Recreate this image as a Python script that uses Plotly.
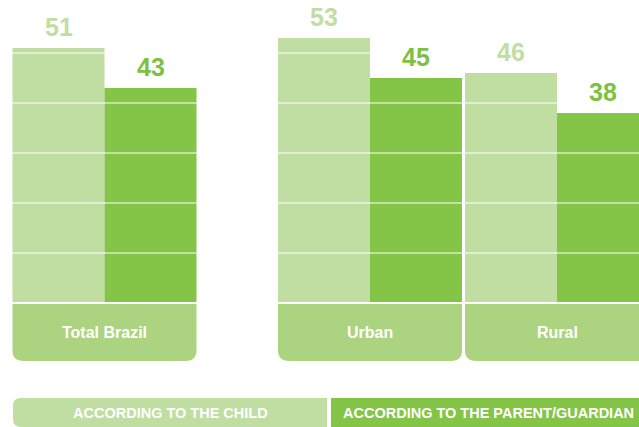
import plotly.graph_objects as go

# data
groups = ["Total Brazil", "Urban", "Rural"]
child = [51, 53, 46]
parent = [43, 45, 38]
series_names = ["ACCORDING TO THE CHILD", "ACCORDING TO THE PARENT/GUARDIAN"]

# layout (x axis in pixel units, y axis in value units: 5 px per unit)
group_x = [104.5, 370, 557]
bar_w = 92
LIGHT = "#c1dea2"
DARK = "#84c446"
BOX = "#acd480"
LIGHT_TXT = "#c1dea2"
DARK_TXT = "#7cc142"
FONT = "Liberation Sans, Arial, sans-serif"
W, H = 639, 427
BASE_PX = 303
PX_PER_UNIT = 5


def py(p):
    """pixel row -> y value"""
    return (BASE_PX - p) / PX_PER_UNIT


fig = go.Figure()
fig.add_trace(go.Bar(x=[c - bar_w / 2 for c in group_x], y=child, width=bar_w,
                     marker=dict(color=LIGHT, line=dict(width=0)), name=series_names[0],
                     hoverinfo="y"))
fig.add_trace(go.Bar(x=[c + bar_w / 2 for c in group_x], y=parent, width=bar_w,
                     marker=dict(color=DARK, line=dict(width=0)), name=series_names[1],
                     hoverinfo="y"))

shapes = []

annotations = []
# value labels
for c, a, b in zip(group_x, child, parent):
    annotations.append(dict(x=c - bar_w / 2, y=a, text=f"<b>{a}</b>", showarrow=False,
                            yanchor="middle", yshift=21,
                            font=dict(family=FONT, size=25, color=LIGHT_TXT)))
    annotations.append(dict(x=c + bar_w / 2, y=b, text=f"<b>{b}</b>", showarrow=False,
                            yanchor="middle", yshift=21,
                            font=dict(family=FONT, size=25, color=DARK_TXT)))

# category boxes with rounded bottom corners
rx, ry = 11, 11 / PX_PER_UNIT
yt, yb = py(303), py(361)
for c, g in zip(group_x, groups):
    x0, x1 = c - bar_w, c + bar_w
    path = (f"M {x0},{yt} L {x1},{yt} L {x1},{yb + ry} Q {x1},{yb} {x1 - rx},{yb} "
            f"L {x0 + rx},{yb} Q {x0},{yb} {x0},{yb + ry} Z")
    shapes.append(dict(type="path", xref="x", yref="y", path=path,
                       fillcolor=BOX, line=dict(width=0), layer="above"))
    annotations.append(dict(x=c, y=py(332), text=f"<b>{g}</b>", showarrow=False,
                            font=dict(family=FONT, size=16, color="white")))

# white gridlines over the bars (the one at 0 separates bars from the boxes)
for v in range(0, 60, 10):
    shapes.append(dict(type="line", xref="x", yref="y", x0=0, x1=W, y0=v, y1=v,
                       line=dict(color="white", width=1.1 if v else 2), layer="above"))

# legend strip
lt, lb = py(398), py(427)
rx, ry = 8, 8 / PX_PER_UNIT
x0, x1 = 13, 327
path = (f"M {x0 + rx},{lt} L {x1},{lt} L {x1},{lb} L {x0 + rx},{lb} "
        f"Q {x0},{lb} {x0},{lb + ry} L {x0},{lt - ry} Q {x0},{lt} {x0 + rx},{lt} Z")
shapes.append(dict(type="path", xref="x", yref="y", path=path,
                   fillcolor=LIGHT, line=dict(width=0), layer="above"))
shapes.append(dict(type="rect", xref="x", yref="y", x0=331, x1=W + 5, y0=lb, y1=lt,
                   fillcolor=DARK, line=dict(width=0), layer="above"))
annotations.append(dict(x=170, y=py(413), text=f"<b>{series_names[0]}</b>", showarrow=False,
                        font=dict(family=FONT, size=14.5, color="white")))
annotations.append(dict(x=488, y=py(413), text=f"<b>{series_names[1]}</b>", showarrow=False,
                        font=dict(family=FONT, size=14.5, color="white")))

fig.update_layout(
    width=W, height=H,
    margin=dict(t=0, b=0, l=0, r=0),
    paper_bgcolor="white", plot_bgcolor="white",
    showlegend=False,
    xaxis=dict(visible=False, range=[0, W], fixedrange=True),
    yaxis=dict(visible=False, range=[py(H), py(0)], fixedrange=True),
    shapes=shapes,
    annotations=annotations,
)

# page body has an 8px default margin; drop it so the figure sits at the corner
fig.write_html("out.html", config={"displayModeBar": False},
               post_script="document.body.style.margin='0';document.body.style.overflow='hidden';")
